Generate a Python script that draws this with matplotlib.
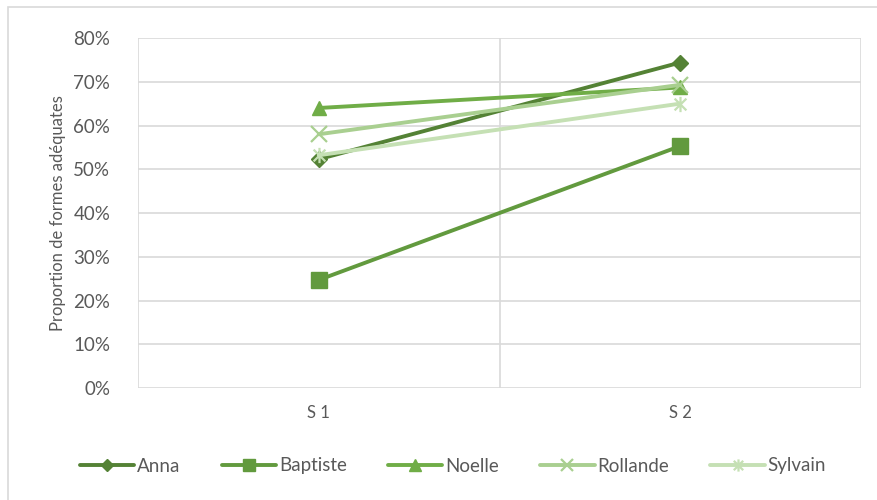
import matplotlib
matplotlib.use("Agg")
import matplotlib.pyplot as plt
from matplotlib.path import Path
from matplotlib.patches import Rectangle
from matplotlib.ticker import PercentFormatter

seances = ["S 1", "S 2"]
anna = [52.3, 74.4]
baptiste = [24.7, 55.3]
noelle = [64.0, 68.7]
rollande = [58.0, 69.3]
sylvain = [53.2, 65.0]

noms = ["Anna", "Baptiste", "Noelle", "Rollande", "Sylvain"]
couleurs = ["#548235", "#629A3E", "#70AD47", "#A9CF90", "#C5E0B4"]

# etoile facon Excel : une croix + un trait vertical
etoile = Path([(-1, -1), (1, 1), (-1, 1), (1, -1), (0, -1.3), (0, 1.3)],
              [Path.MOVETO, Path.LINETO, Path.MOVETO, Path.LINETO, Path.MOVETO, Path.LINETO])

marqueurs = ["D", "s", "^", "x", etoile]
tailles = [8, 11, 10, 11, 11]

plt.rcParams["font.family"] = ["Lato", "DejaVu Sans"]
gris = "#595959"

fig = plt.figure(figsize=(8.77, 5), dpi=100)
ax = fig.add_axes([138 / 877, 112 / 500, 723 / 877, 350 / 500])

# cadre du graphique
fig.patches.append(Rectangle((8 / 877, -0.1), 1.0, 1.1 - 7 / 500, transform=fig.transFigure,
                             fill=False, edgecolor="#D9D9D9", linewidth=1.2))

series = [anna, baptiste, noelle, rollande, sylvain]
x = range(len(seances))
for nom, vals, c, m, t in zip(noms, series, couleurs, marqueurs, tailles):
    ax.plot(x, vals, color=c, lw=2.8, marker=m, markersize=t, label=nom,
            markerfacecolor=c, markeredgecolor=c, markeredgewidth=1.6 if m in ("x",) or m is etoile else 1,
            solid_capstyle="round")

ax.set_xlim(-0.5, 1.5)
ax.set_ylim(0, 80)
ax.set_yticks(range(0, 81, 10))
ax.yaxis.set_major_formatter(PercentFormatter(decimals=0))
ax.set_xticks(list(x))
ax.set_xticklabels(seances)

for v in [-0.5, 0.5, 1.5]:
    ax.axvline(v, color="#D9D9D9", lw=1.2, zorder=0)
ax.grid(axis="y", color="#D9D9D9", lw=1.2, zorder=0)
ax.set_axisbelow(True)
for s in ax.spines.values():
    s.set_visible(False)
ax.tick_params(length=0, colors=gris, labelsize=13.5)
ax.tick_params(axis="y", pad=20)
ax.tick_params(axis="x", pad=12, labelsize=12)
ax.set_ylabel("Proportion de formes adéquates", color=gris, fontsize=12, labelpad=5)

ax.legend(loc="center", bbox_to_anchor=(453 / 877, 34 / 500), bbox_transform=fig.transFigure,
          ncol=5, frameon=False, fontsize=13.5, handlelength=2.9, columnspacing=2.2,
          handletextpad=0.15, markerscale=0.8, labelcolor=gris)

fig.savefig("out.png", dpi=100)
